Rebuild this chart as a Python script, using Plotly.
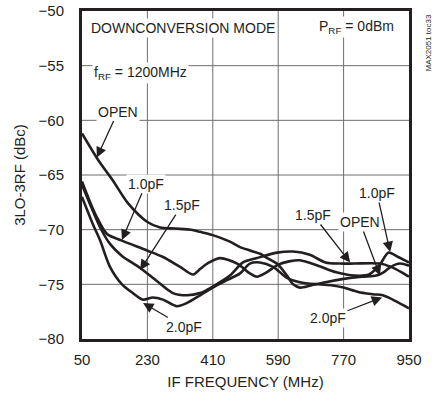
import plotly.graph_objects as go

# IF frequency (MHz) / 3LO-3RF (dBc)
open_f = [50, 94, 135, 177, 230, 265, 306, 350, 375, 410, 457, 485, 512, 540, 565, 590, 614, 631, 650, 680, 720, 770, 820, 860, 880, 900, 925, 950]
open_v = [-61.2, -63.6, -65.5, -67.6, -69.3, -69.8, -69.9, -70.0, -70.2, -70.5, -71.1, -71.6, -71.9, -72.2, -72.7, -73.2, -74.2, -75.0, -75.3, -75.1, -74.8, -74.5, -74.3, -74.2, -73.9, -73.4, -73.1, -73.3]

pf10_f = [50, 70, 90, 119, 160, 229, 273, 320, 356, 375, 400, 430, 477, 512, 531, 558, 590, 620, 650, 700, 750, 800, 840, 870, 893, 920, 950]
pf10_v = [-65.6, -67.3, -68.8, -70.4, -71.0, -71.9, -72.5, -73.4, -74.1, -73.6, -73.0, -72.6, -73.1, -74.0, -74.3, -73.9, -73.2, -72.9, -72.8, -73.3, -73.9, -74.2, -74.1, -73.2, -72.1, -72.5, -73.0]

pf15_f = [50, 80, 100, 127, 160, 210, 256, 300, 339, 375, 410, 457, 493, 531, 587, 631, 677, 720, 760, 800, 870, 900, 930, 950]
pf15_v = [-65.9, -68.3, -69.8, -71.3, -72.4, -73.5, -74.7, -75.8, -76.0, -75.8, -75.2, -74.2, -73.0, -72.6, -72.1, -72.0, -72.3, -73.0, -73.1, -73.1, -73.1, -73.4, -73.9, -74.3]

pf20_f = [50, 80, 100, 127, 160, 190, 218, 245, 273, 311, 339, 375, 410, 450, 485, 512, 540, 576, 595, 614, 650, 700, 740, 770, 810, 850, 878, 917, 950]
pf20_v = [-67.0, -69.5, -71.0, -73.4, -75.0, -75.8, -76.4, -76.2, -76.4, -77.0, -76.7, -76.0, -75.3, -74.6, -74.0, -73.1, -73.0, -73.4, -73.9, -74.4, -74.8, -75.0, -75.1, -75.3, -75.7, -75.9, -76.0, -76.6, -77.2]

xticks = [50, 230, 410, 590, 770, 950]
yticks = [-80, -75, -70, -65, -60, -55, -50]

FONT = "Liberation Sans, Arial, sans-serif"
INK = "#231f20"
GRID = "#6e6e6e"

fig = go.Figure()

# grid lines at the tick values
for xv in xticks[1:-1]:
    fig.add_shape(type="line", x0=xv, x1=xv, y0=-80, y1=-50, layer="below",
                  line=dict(color=GRID, width=1))
for yv in yticks[1:-1]:
    fig.add_shape(type="line", x0=50, x1=950, y0=yv, y1=yv, layer="below",
                  line=dict(color=GRID, width=1))

for fx, vy in [(open_f, open_v), (pf10_f, pf10_v), (pf15_f, pf15_v), (pf20_f, pf20_v)]:
    fig.add_trace(go.Scatter(x=fx, y=vy, mode="lines",
                             line=dict(color=INK, width=2.6, shape="spline", smoothing=0.8),
                             showlegend=False, hoverinfo="skip"))

# curve labels: (text, text x, text y, arrow tip x, tip y)
labels = [
    ("OPEN", 149, -59.2, 91, -63.4),
    ("1.0pF", 226, -65.8, 160, -70.95),
    ("1.5pF", 325, -67.75, 210, -73.7),
    ("2.0pF", 331, -78.9, 218, -76.7),
    ("1.5pF", 686, -68.66, 788, -73.0),
    ("OPEN", 815, -69.3, 870, -74.2),
    ("1.0pF", 862, -66.65, 898, -72.05),
    ("2.0pF", 727, -78.1, 876, -76.2),
]
for txt, tx, ty, hx, hy in labels:
    fig.add_annotation(x=hx, y=hy, ax=tx, ay=ty, axref="x", ayref="y", text=txt,
                       showarrow=True, arrowhead=2, arrowsize=1.6, arrowwidth=1.3, arrowcolor=INK,
                       bgcolor="white", borderpad=1,
                       font=dict(size=14, color=INK, family=FONT))

fig.add_annotation(x=69, y=-51.55, text="DOWNCONVERSION MODE", showarrow=False, xanchor="left",
                   bgcolor="white", font=dict(size=14, color=INK, family=FONT))
fig.add_annotation(x=914, y=-51.5, text="P<sub>RF</sub> = 0dBm", showarrow=False, xanchor="right",
                   bgcolor="white", font=dict(size=14, color=INK, family=FONT))
fig.add_annotation(x=77.5, y=-55.7, text="f<sub>RF</sub> = 1200MHz", showarrow=False, xanchor="left",
                   bgcolor="white", font=dict(size=14, color=INK, family=FONT))
fig.add_annotation(x=1.0, y=1.0, xref="paper", yref="paper", xanchor="center", yanchor="top",
                   xshift=19, yshift=-2, text="MAX2051 toc33", textangle=-90, showarrow=False,
                   font=dict(size=8, color=INK, family=FONT))

fig.update_xaxes(range=[50, 950], tickvals=xticks, showgrid=False,
                 showline=True, mirror=True, linecolor=INK, linewidth=3, zeroline=False,
                 ticks="outside", ticklen=5, tickcolor="rgba(0,0,0,0)", automargin=False,
                 title=dict(text="IF FREQUENCY (MHz)", standoff=10, font=dict(size=15, family=FONT, color=INK)),
                 tickfont=dict(size=15, family=FONT, color=INK))
fig.update_yaxes(range=[-80, -50], tickvals=yticks, showgrid=False,
                 showline=True, mirror=True, linecolor=INK, linewidth=3, zeroline=False,
                 ticks="outside", ticklen=12, tickcolor="rgba(0,0,0,0)", automargin=False,
                 title=dict(text="3LO-3RF (dBc)", standoff=10, font=dict(size=15, family=FONT, color=INK)),
                 tickfont=dict(size=15, family=FONT, color=INK))

fig.update_layout(width=438, height=401, margin=dict(l=82, r=29, t=11, b=62),
                  plot_bgcolor="white", paper_bgcolor="white")

# drop the default page margin so the figure sits at the window's corner
fig.write_html("out.html", config={"displayModeBar": False},
               post_script="document.body.style.margin='0';")
